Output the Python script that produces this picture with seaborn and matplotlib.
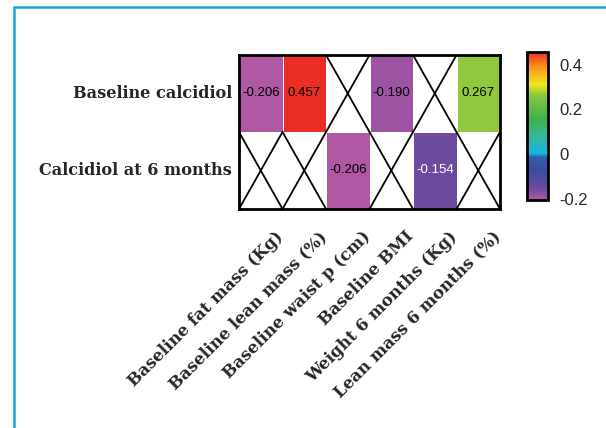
import numpy as np
import pandas as pd
import matplotlib
matplotlib.use("Agg")
import matplotlib.pyplot as plt
from matplotlib.colors import LinearSegmentedColormap
from matplotlib.patches import Rectangle
from matplotlib.transforms import ScaledTranslation
import seaborn as sns

# data
row_labels = ["Baseline calcidiol", "Calcidiol at 6 months"]
col_labels = ["Baseline fat mass (Kg)", "Baseline lean mass (%)", "Baseline waist p (cm)",
              "Baseline BMI", "Weight 6 months (Kg)", "Lean mass 6 months (%)"]
baseline_vals = [-0.206, 0.457, np.nan, -0.190, np.nan, 0.267]
six_month_vals = [np.nan, np.nan, -0.206, np.nan, -0.154, np.nan]
cbar_ticks = [-0.2, 0, 0.2, 0.4]
cbar_ticklabels = ["-0.2", "0", "0.2", "0.4"]

df = pd.DataFrame([baseline_vals, six_month_vals], index=row_labels, columns=col_labels)

# rainbow-ish scale: purple -> blue -> cyan -> green -> yellow -> red
cmap = LinearSegmentedColormap.from_list("rb", [
    (0.0, "#b058a4"), (0.08, "#6b4a9e"), (0.2, "#3b4ca0"), (0.29, "#2e5fae"),
    (0.31, "#10b5e5"), (0.42, "#35b7a0"), (0.55, "#3db54a"), (0.71, "#8cc63f"),
    (0.78, "#f3e81e"), (0.9, "#f7941d"), (1.0, "#ea2e25")])

sns.set_style("white")

fig = plt.figure(figsize=(6.06, 4.28), dpi=100)
ax = fig.add_axes([0.3944, 0.5117, 0.4307, 0.3598])
cax = fig.add_axes([0.8696, 0.5327, 0.0347, 0.346])

sns.heatmap(df, ax=ax, cbar_ax=cax, cmap=cmap, vmin=-0.206, vmax=0.457,
            annot=True, fmt=".3f", annot_kws={"fontsize": 9.5, "family": "Liberation Sans"},
            linewidths=0.6, linecolor="white")

for t in ax.texts:
    t.set_color("white" if t.get_text() == "-0.154" else "black")

# crosses on the empty cells
for i in range(df.shape[0]):
    for j in range(df.shape[1]):
        if np.isnan(df.iat[i, j]):
            ax.plot([j, j + 1], [i, i + 1], color="black", lw=1.3)
            ax.plot([j, j + 1], [i + 1, i], color="black", lw=1.3)

for s in ax.spines.values():
    s.set_visible(True)
    s.set_color("black")
    s.set_linewidth(2)

ax.tick_params(length=0, pad=5)
ax.set_xlabel("")
ax.set_ylabel("")
ax.set_yticklabels(row_labels, rotation=0, fontsize=11.6, fontweight="bold", family="DejaVu Serif")
ax.set_xticklabels(col_labels, rotation=45, ha="right", rotation_mode="anchor",
                   fontsize=12, fontweight="bold", family="DejaVu Serif")
shift = ScaledTranslation(0.14, -0.12, fig.dpi_scale_trans)
for lab in ax.get_xticklabels():
    lab.set_transform(lab.get_transform() + shift)

cb = ax.collections[0].colorbar
cb.set_ticks(cbar_ticks)
cb.set_ticklabels(cbar_ticklabels)
cb.outline.set_edgecolor("black")
cb.outline.set_linewidth(2)
cax.tick_params(direction="in", left=True, right=True, length=5, width=1.8, labelsize=12, pad=8)
for lab in cax.get_yticklabels():
    lab.set_family("Liberation Sans")

# light blue frame around the panel
fig.patches.append(Rectangle((14 / 606, -0.2), 1.2, 1.2 - 7 / 428, transform=fig.transFigure,
                             fill=False, edgecolor="#1aa7e0", lw=1.8, clip_on=False))

fig.savefig("out.png", dpi=100)
